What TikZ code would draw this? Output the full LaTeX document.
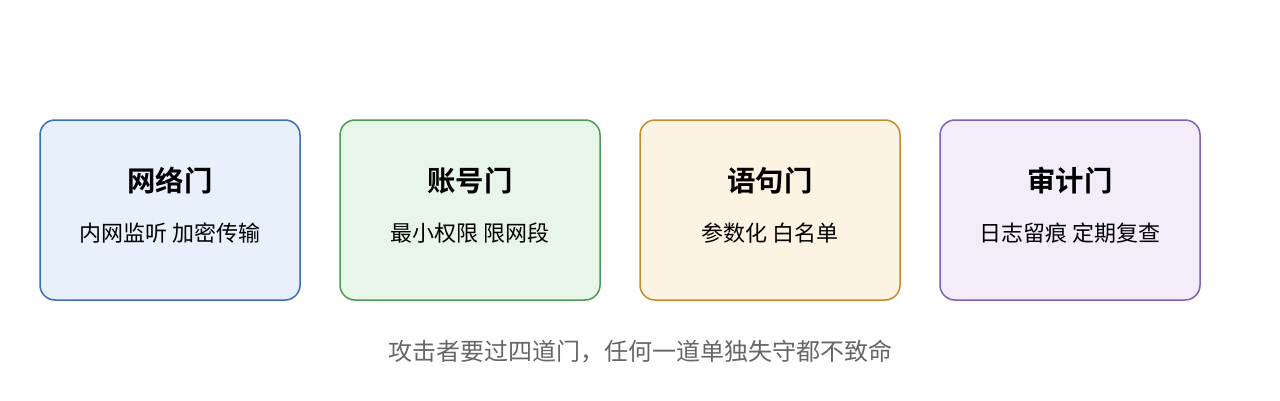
\documentclass[tikz,border=0pt]{standalone}
\usepackage{fontspec}
\setmainfont{Noto Sans CJK SC}
\newfontfamily\cjkb{Noto Sans CJK SC Bold}
\definecolor{bS}{HTML}{3D6DB2}\definecolor{bF}{HTML}{E8F0FB}
\definecolor{gS}{HTML}{4E9A52}\definecolor{gF}{HTML}{E8F5E9}
\definecolor{oS}{HTML}{C88B2C}\definecolor{oF}{HTML}{FCF3E3}
\definecolor{pS}{HTML}{7E60B4}\definecolor{pF}{HTML}{F3EDFA}
\definecolor{capC}{HTML}{666666}
\tikzset{
  gate/.style={rounded corners=15pt, line width=1.5pt, minimum width=260pt, minimum height=180pt, inner sep=0pt},
  ttl/.style={font=\cjkb\fontsize{28.4}{32}\selectfont, text=black},
  sub/.style={font=\fontsize{22}{26}\selectfont, text=black},
  captxt/.style={font=\fontsize{24}{28}\selectfont, text=capC}
}
\begin{document}
\begin{tikzpicture}[x=1pt,y=1pt]
\useasboundingbox (0,0) rectangle (1280,400);
\node[gate, draw=bS, fill=bF] (g1) at (170,190) {};
\node[gate, draw=gS, fill=gF] (g2) at (470,190) {};
\node[gate, draw=oS, fill=oF] (g3) at (770,190) {};
\node[gate, draw=pS, fill=pF] (g4) at (1070,190) {};
\node[ttl] (t1) at (170,219) {网络门};
\node[ttl] (t2) at (470,219) {账号门};
\node[ttl] (t3) at (770,219) {语句门};
\node[ttl] (t4) at (1070,219) {审计门};
\node[sub] (s1) at (170,167) {内网监听 加密传输};
\node[sub] (s2) at (470,167) {最小权限 限网段};
\node[sub] (s3) at (770,167) {参数化 白名单};
\node[sub] (s4) at (1070,167) {日志留痕 定期复查};
\node[captxt] (c) at (640,48) {攻击者要过四道门，任何一道单独失守都不致命};
\end{tikzpicture}
\end{document}
